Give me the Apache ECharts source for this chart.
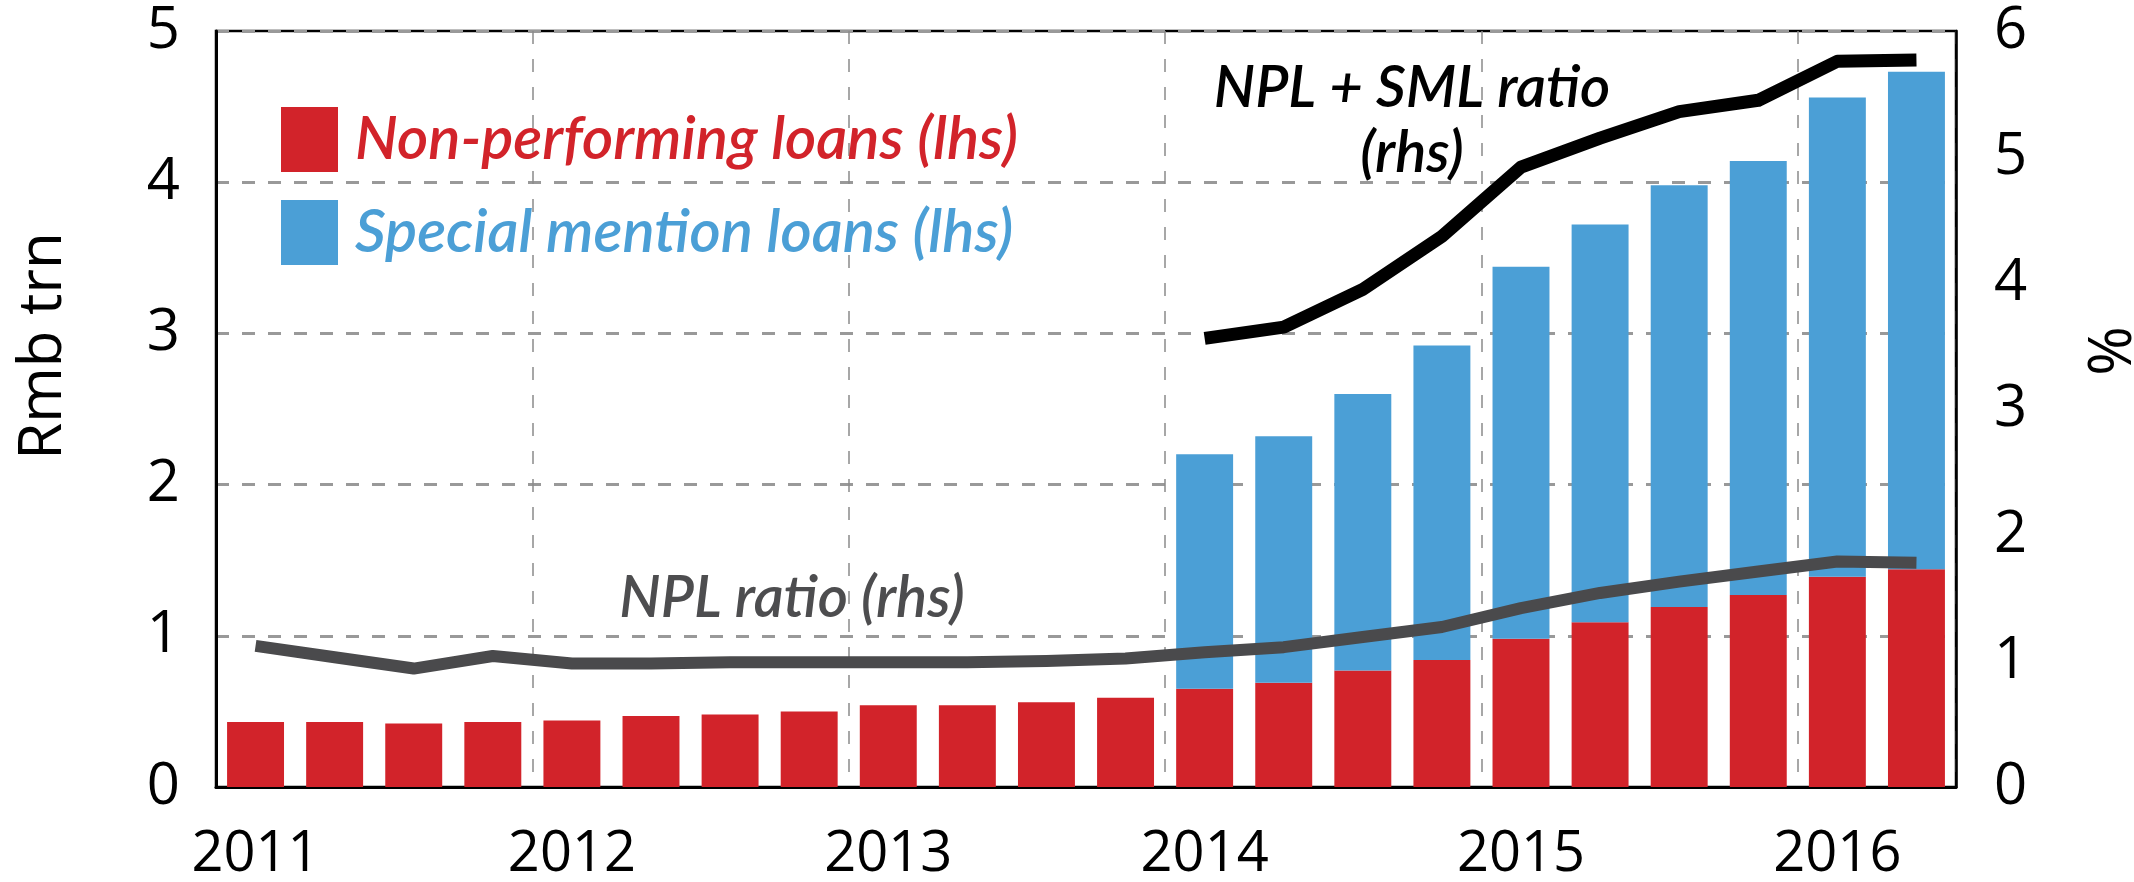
<!DOCTYPE html>
<html>
<head>
<meta charset="utf-8">
<title>NPL and special mention loans</title>
<script src="https://cdn.jsdelivr.net/npm/echarts@6.0.0/dist/echarts.min.js"></script>
<style>
html, body { margin: 0; padding: 0; background: #fff; }
#con { width: 2134px; height: 882px; }
</style>
</head>
<body>
<div id="con"></div>
<script>
// quarterly, 2011 Q1 .. 2016 Q2
var quarters = ['2011Q1', '2011Q2', '2011Q3', '2011Q4',
    '2012Q1', '2012Q2', '2012Q3', '2012Q4',
    '2013Q1', '2013Q2', '2013Q3', '2013Q4',
    '2014Q1', '2014Q2', '2014Q3', '2014Q4',
    '2015Q1', '2015Q2', '2015Q3', '2015Q4',
    '2016Q1', '2016Q2'];

// Rmb trn (lhs)
var nplLoans = [0.43, 0.43, 0.42, 0.43, 0.44, 0.47, 0.48, 0.50, 0.54, 0.54, 0.56, 0.59,
    0.65, 0.69, 0.77, 0.84, 0.98, 1.09, 1.19, 1.27, 1.39, 1.44];
var smlLoans = [null, null, null, null, null, null, null, null, null, null, null, null,
    1.55, 1.63, 1.83, 2.08, 2.46, 2.63, 2.79, 2.87, 3.17, 3.29];

// % (rhs)
var nplRatio = [1.12, 1.03, 0.94, 1.04, 0.98, 0.98, 0.99, 0.99, 0.99, 0.99, 1.00, 1.02,
    1.07, 1.11, 1.19, 1.27, 1.42, 1.54, 1.63, 1.71, 1.79, 1.78];
var nplSmlRatio = [null, null, null, null, null, null, null, null, null, null, null, null,
    3.56, 3.65, 3.95, 4.37, 4.92, 5.15, 5.36, 5.45, 5.76, 5.77];

var red = '#d2232a';
var blue = '#4b9fd6';
var font = '"Open Sans", sans-serif';
var italicFont = 'Lato, "Open Sans", sans-serif';

var myChart = echarts.init(document.getElementById('con'));

var option = {
    animation: false,
    backgroundColor: '#fff',
    grid: {
        left: 216, right: 178, top: 31, bottom: 95,
        show: true, borderColor: '#000', borderWidth: 2.5,
        outerBoundsMode: 'none'
    },
    legend: {
        orient: 'vertical',
        left: 276, top: 102,
        itemWidth: 57, itemHeight: 65, itemGap: 28,
        icon: 'rect',
        textStyle: { fontFamily: italicFont, fontSize: 60, fontStyle: 'italic', fontWeight: 600, padding: [0, 0, 0, 12] },
        data: [
            { name: 'Non-performing loans (lhs)', textStyle: { color: red } },
            { name: 'Special mention loans (lhs)', textStyle: { color: blue } }
        ]
    },
    xAxis: {
        type: 'category',
        data: quarters,
        axisLine: { lineStyle: { color: '#000', width: 3 } },
        axisTick: { show: false },
        axisLabel: {
            interval: 3,
            margin: 40,
            fontFamily: font, fontSize: 56, color: '#000',
            formatter: function (v) { return v.slice(0, 4); }
        },
        splitLine: {
            show: true, interval: 3,
            lineStyle: { color: '#8a8a8a', width: 1.5, type: [13, 15] }
        }
    },
    yAxis: [
        {
            type: 'value', min: 0, max: 5, interval: 1,
            axisLine: { show: true, lineStyle: { color: '#000', width: 3 } },
            axisTick: { show: false },
            axisLabel: { margin: 36, fontFamily: font, fontSize: 58, color: '#000' },
            splitLine: { lineStyle: { color: '#999', width: 3, type: [13, 13] } }
        },
        {
            type: 'value', min: 0, max: 6, interval: 1,
            axisLine: { show: true, lineStyle: { color: '#000', width: 2.5 } },
            axisTick: { show: false },
            axisLabel: { margin: 38, fontFamily: font, fontSize: 58, color: '#000' },
            splitLine: { show: false }
        }
    ],
    graphic: [
        {
            type: 'text', x: 44, y: 346, rotation: Math.PI / 2,
            style: { text: 'Rmb trn', fontFamily: font, fontSize: 60, fill: '#000', align: 'center', verticalAlign: 'middle' }
        },
        {
            type: 'text', x: 2114, y: 351, rotation: Math.PI / 2,
            style: { text: '%', fontFamily: font, fontSize: 60, fill: '#000', align: 'center', verticalAlign: 'middle' }
        },
        {
            type: 'text', x: 792, y: 598, z: 20,
            style: { text: 'NPL ratio (rhs)', fontFamily: italicFont, fontSize: 58, fontStyle: 'italic', fontWeight: 600, fill: '#4d4d4f', align: 'center', verticalAlign: 'middle' }
        },
        {
            type: 'text', x: 1412, y: 121, z: 20,
            style: { text: 'NPL + SML ratio\n(rhs)', fontFamily: italicFont, fontSize: 58, lineHeight: 65, fontStyle: 'italic', fontWeight: 600, fill: '#000', align: 'center', verticalAlign: 'middle' }
        }
    ],
    series: [
        {
            name: 'Non-performing loans (lhs)',
            type: 'bar', stack: 'loans', barWidth: '72%',
            itemStyle: { color: red },
            data: nplLoans
        },
        {
            name: 'Special mention loans (lhs)',
            type: 'bar', stack: 'loans', barWidth: '72%',
            itemStyle: { color: blue },
            data: smlLoans
        },
        {
            name: 'NPL ratio (rhs)',
            type: 'line', yAxisIndex: 1, z: 5,
            symbol: 'none',
            lineStyle: { color: '#4a4a4c', width: 12, join: 'round' },
            data: nplRatio
        },
        {
            name: 'NPL + SML ratio (rhs)',
            type: 'line', yAxisIndex: 1, z: 5,
            symbol: 'none',
            lineStyle: { color: '#000', width: 13, join: 'round' },
            data: nplSmlRatio
        }
    ]
};
myChart.setOption(option);
</script>
</body>
</html>
